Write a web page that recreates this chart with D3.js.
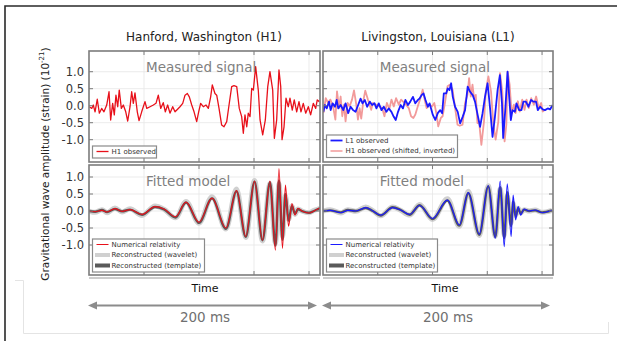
<!DOCTYPE html>
<html>
<head>
<meta charset="utf-8">
<script src="https://cdn.jsdelivr.net/npm/d3@7"></script>
<style>
  body { margin: 0; background: #fff; }
  text { font-family: "DejaVu Sans", sans-serif; }
</style>
</head>
<body>
<svg id="chart" width="617" height="341"></svg>
<script>
// ---- data (time in s, strain in 1e-21) ----
const timeRange = [0.25, 0.46];
const xTicks = [0.30, 0.35, 0.40, 0.45];
const yTicks = [-1.0, -0.5, 0.0, 0.5, 1.0];
const topDomain = [-1.656, 1.609];
const bottomDomain = [-1.882, 1.353];
const h1ShiftMs = 6.9; // H1 shifted and inverted onto L1

const h1Observed = [
  [0.2503,-0.03],[0.2525,-0.08],[0.2539,0.02],[0.2555,-0.18],[0.2575,0.19],[0.2594,-0.22],
  [0.2615,-0.08],[0.2636,-0.18],[0.2661,0.02],[0.2682,0.41],[0.2697,-0.42],[0.2715,0.07],
  [0.2730,-0.27],[0.2745,0.31],[0.2761,-0.03],[0.2775,0.46],[0.2794,-0.08],[0.2812,0.02],
  [0.2834,-0.18],[0.2852,-0.45],[0.2873,-0.03],[0.2888,0.41],[0.2903,0.07],[0.2918,0.38],
  [0.2939,-0.18],[0.2955,-0.44],[0.2979,-0.18],[0.3009,0.12],[0.3025,-0.08],[0.3055,-0.03],
  [0.3085,0.02],[0.3109,0.07],[0.3130,0.31],[0.3152,-0.08],[0.3175,0.09],[0.3194,-0.18],
  [0.3215,0.02],[0.3236,-0.22],[0.3261,-0.03],[0.3282,-0.18],[0.3303,-0.11],[0.3327,-0.03],
  [0.3352,0.07],[0.3373,0.31],[0.3394,0.36],[0.3412,0.26],[0.3434,0.02],[0.3455,-0.18],
  [0.3479,-0.47],[0.3497,-0.18],[0.3515,0.07],[0.3539,-0.03],[0.3564,0.02],[0.3585,-0.08],
  [0.3606,0.26],[0.3621,0.61],[0.3645,0.36],[0.3661,0.31],[0.3682,-0.08],[0.3706,-0.57],
  [0.3727,-0.62],[0.3752,-0.47],[0.3773,0.02],[0.3797,0.56],[0.3818,0.59],[0.3843,0.56],
  [0.3866,-0.08],[0.3888,-0.32],[0.3903,-0.81],[0.3918,-0.27],[0.3934,-0.62],[0.3948,-0.22],
  [0.3964,-0.32],[0.3979,0.51],[0.3994,0.46],[0.4015,1.15],[0.4039,0.46],[0.4055,-0.42],
  [0.4079,-0.86],[0.4103,-0.42],[0.4125,0.56],[0.4145,1.00],[0.4170,0.46],[0.4185,-0.96],
  [0.4206,-0.42],[0.4227,1.05],[0.4243,0.56],[0.4255,-1.00],[0.4273,-0.62],[0.4291,0.22],
  [0.4312,-0.03],[0.4327,0.22],[0.4348,-0.13],[0.4366,0.17],[0.4388,-0.18],[0.4409,0.12],
  [0.4427,-0.18],[0.4448,0.07],[0.4470,-0.22],[0.4494,-0.03],[0.4515,-0.27],[0.4539,0.07],
  [0.4561,-0.08],[0.4575,0.17],[0.4594,0.12]
];

const l1Observed = [
  [0.2503,-0.18],[0.2518,0.02],[0.2534,-0.08],[0.2555,0.12],[0.2570,-0.13],[0.2588,0.07],
  [0.2609,-0.03],[0.2625,0.17],[0.2639,-0.08],[0.2661,0.02],[0.2685,-0.13],[0.2706,0.07],
  [0.2730,-0.22],[0.2752,-0.03],[0.2775,-0.13],[0.2797,-0.18],[0.2821,0.02],[0.2843,0.21],
  [0.2861,0.07],[0.2882,0.17],[0.2903,-0.03],[0.2927,0.12],[0.2948,0.02],[0.2970,0.07],
  [0.2988,-0.08],[0.3009,0.07],[0.3034,-0.13],[0.3055,-0.03],[0.3079,-0.18],[0.3100,-0.08],
  [0.3125,-0.18],[0.3145,-0.32],[0.3164,-0.42],[0.3185,-0.18],[0.3209,0.02],[0.3230,-0.08],
  [0.3252,0.17],[0.3276,0.02],[0.3297,0.12],[0.3321,0.26],[0.3343,0.07],[0.3367,0.17],
  [0.3382,0.21],[0.3400,0.31],[0.3418,0.36],[0.3436,0.17],[0.3457,-0.03],[0.3473,0.07],
  [0.3503,-0.27],[0.3525,-0.42],[0.3548,-0.22],[0.3570,-0.13],[0.3588,-0.22],[0.3603,0.36],
  [0.3625,0.36],[0.3639,0.51],[0.3655,0.46],[0.3670,0.66],[0.3685,0.26],[0.3706,-0.03],
  [0.3730,-0.18],[0.3752,-0.52],[0.3776,-0.32],[0.3797,-0.13],[0.3821,0.56],[0.3843,0.41],
  [0.3867,0.31],[0.3888,0.12],[0.3912,-0.27],[0.3934,-0.62],[0.3957,-0.22],[0.3979,0.26],
  [0.4003,0.66],[0.4027,-0.13],[0.4048,-0.92],[0.4070,-0.32],[0.4094,0.46],[0.4115,0.90],
  [0.4134,0.07],[0.4145,-0.95],[0.4164,-0.13],[0.4185,1.00],[0.4200,0.26],[0.4215,-0.42],
  [0.4230,-0.13],[0.4252,-0.18],[0.4266,0.07],[0.4291,-0.13],[0.4312,-0.13],[0.4330,0.12],
  [0.4352,0.12],[0.4376,-0.03],[0.4400,0.17],[0.4421,0.12],[0.4445,0.12],[0.4461,-0.13],
  [0.4482,-0.03],[0.4506,-0.11],[0.4527,-0.13],[0.4552,-0.08],[0.4573,-0.11],[0.4597,0.02]
];

const h1Nr = [
  [0.2500,0.00],[0.2555,-0.02],[0.2618,0.02],[0.2664,-0.03],[0.2736,0.07],[0.2800,-0.01],
  [0.2873,0.04],[0.2982,-0.10],[0.3100,0.13],[0.3182,0.06],[0.3286,-0.17],[0.3382,0.26],
  [0.3500,-0.33],[0.3618,0.38],[0.3745,-0.50],[0.3841,0.60],[0.3925,-0.75],[0.4005,0.88],
  [0.4077,-0.86],[0.4145,0.88],[0.4195,-1.15],[0.4227,1.25],[0.4259,-1.10],[0.4286,0.76],
  [0.4314,-0.45],[0.4345,0.22],[0.4373,-0.12],[0.4400,0.08],[0.4436,0.00],[0.4500,-0.06],
  [0.4545,0.00],[0.4600,0.10]
];
const h1Template = [
  [0.2500,0.00],[0.2555,-0.02],[0.2618,0.03],[0.2664,-0.03],[0.2736,0.06],[0.2800,-0.01],
  [0.2873,0.04],[0.2982,-0.11],[0.3100,0.12],[0.3182,0.05],[0.3286,-0.19],[0.3382,0.25],
  [0.3500,-0.35],[0.3618,0.37],[0.3745,-0.52],[0.3841,0.58],[0.3925,-0.76],[0.4005,0.86],
  [0.4077,-0.86],[0.4145,0.85],[0.4195,-1.02],[0.4227,0.90],[0.4259,-0.85],[0.4286,0.50],
  [0.4314,-0.28],[0.4345,0.14],[0.4373,-0.08],[0.4400,0.05],[0.4436,0.00],[0.4500,-0.05],
  [0.4545,0.00],[0.4600,0.08]
];
const h1Wavelet = [
  [0.2500,0.00],[0.2555,-0.04],[0.2618,0.04],[0.2664,-0.05],[0.2736,0.09],[0.2800,-0.03],
  [0.2873,0.07],[0.2982,-0.13],[0.3100,0.15],[0.3182,0.05],[0.3286,-0.20],[0.3382,0.28],
  [0.3500,-0.36],[0.3618,0.42],[0.3745,-0.53],[0.3841,0.65],[0.3925,-0.78],[0.4005,0.90],
  [0.4077,-0.88],[0.4145,0.80],[0.4195,-0.95],[0.4227,0.80],[0.4259,-0.75],[0.4286,0.45],
  [0.4314,-0.25],[0.4345,0.15],[0.4373,-0.10],[0.4400,0.06],[0.4436,0.00],[0.4500,-0.05],
  [0.4545,0.02],[0.4600,0.08]
];

const l1Nr = [
  [0.2500,0.00],[0.2564,0.02],[0.2664,-0.05],[0.2727,0.02],[0.2800,0.00],[0.2891,0.10],
  [0.2955,0.00],[0.3027,-0.12],[0.3136,0.10],[0.3209,0.03],[0.3291,-0.10],[0.3382,0.16],
  [0.3500,-0.22],[0.3636,0.32],[0.3745,-0.41],[0.3827,0.54],[0.3927,-0.68],[0.4009,0.75],
  [0.4073,-0.80],[0.4118,0.88],[0.4155,-1.05],[0.4182,0.80],[0.4218,-0.75],[0.4236,0.47],
  [0.4259,-0.26],[0.4282,0.13],[0.4305,-0.12],[0.4336,0.06],[0.4382,0.00],[0.4436,0.03],
  [0.4500,-0.05],[0.4591,0.02]
];
const l1Template = [
  [0.2500,0.00],[0.2564,0.02],[0.2664,-0.04],[0.2727,0.03],[0.2800,0.00],[0.2891,0.09],
  [0.2955,0.00],[0.3027,-0.13],[0.3136,0.11],[0.3209,0.03],[0.3291,-0.11],[0.3382,0.17],
  [0.3500,-0.24],[0.3636,0.31],[0.3745,-0.43],[0.3827,0.52],[0.3927,-0.70],[0.4009,0.72],
  [0.4073,-0.76],[0.4118,0.70],[0.4155,-0.80],[0.4182,0.55],[0.4218,-0.45],[0.4236,0.28],
  [0.4259,-0.16],[0.4282,0.08],[0.4305,-0.07],[0.4336,0.04],[0.4382,0.00],[0.4436,0.02],
  [0.4500,-0.04],[0.4591,0.02]
];
const l1Wavelet = [
  [0.2500,0.00],[0.2564,0.04],[0.2664,-0.06],[0.2727,0.04],[0.2800,-0.01],[0.2891,0.12],
  [0.2955,0.01],[0.3027,-0.14],[0.3136,0.12],[0.3209,0.02],[0.3291,-0.12],[0.3382,0.19],
  [0.3500,-0.25],[0.3636,0.36],[0.3745,-0.45],[0.3827,0.58],[0.3927,-0.72],[0.4009,0.74],
  [0.4073,-0.74],[0.4118,0.65],[0.4155,-0.70],[0.4182,0.45],[0.4218,-0.35],[0.4236,0.22],
  [0.4259,-0.14],[0.4282,0.08],[0.4305,-0.06],[0.4336,0.04],[0.4382,0.00],[0.4436,0.03],
  [0.4500,-0.04],[0.4591,0.02]
];

// ---- layout ----
const svg = d3.select("#chart");
const cols = [{ x0: 89, x1: 320 }, { x0: 323, x1: 553 }];
const rows = [{ y0: 51, y1: 162, domain: topDomain }, { y0: 165, y1: 275, domain: bottomDomain }];
const fmt = d3.formatLocale({ decimal: ".", thousands: ",", grouping: [3], currency: ["", ""], minus: "-" }).format(".1f");

const RED = "#e8101a", BLUE = "#1a1aff", LIGHT_RED = "#f29a9a";
const WAVELET_GRAY = "#d0d0d0", TEMPLATE_GRAY = "#5a5a5a";

// page furniture (screenshot frame)
svg.append("rect").attr("width", 617).attr("height", 341).attr("fill", "#fff");
svg.append("path").attr("d", "M15,280.5H23.5V333.5H608.5V322")
  .attr("fill", "none").attr("stroke", "#e4e4e4").attr("stroke-width", 1);
svg.append("path").attr("d", "M5,341V6H617")
  .attr("fill", "none").attr("stroke", "#2a2a2a").attr("stroke-width", 1.6);

const panels = [];
rows.forEach((r, ri) => cols.forEach((c, ci) => {
  const x = d3.scaleLinear().domain(timeRange).range([c.x0, c.x1]);
  const y = d3.scaleLinear().domain(r.domain).range([r.y1, r.y0]);
  const id = `clip-${ri}-${ci}`;
  svg.append("clipPath").attr("id", id).append("rect")
    .attr("x", c.x0).attr("y", r.y0).attr("width", c.x1 - c.x0).attr("height", r.y1 - r.y0);
  const g = svg.append("g");
  // grid
  g.selectAll("line.gx").data(xTicks).join("line")
    .attr("x1", d => x(d)).attr("x2", d => x(d)).attr("y1", r.y0).attr("y2", r.y1)
    .attr("stroke", "#e6e6e6").attr("stroke-width", 0.8);
  g.selectAll("line.gy").data(yTicks).join("line")
    .attr("x1", c.x0).attr("x2", c.x1).attr("y1", d => y(d)).attr("y2", d => y(d))
    .attr("stroke", "#e6e6e6").attr("stroke-width", 0.8);
  const plot = svg.append("g").attr("clip-path", `url(#${id})`);
  panels.push({ x, y, g, plot, r, c, ri, ci });
}));

const line = (p, curve) => d3.line().x(d => p.x(d[0])).y(d => p.y(d[1])).curve(curve);

// Measured signal
const [h1m, l1m, h1f, l1f] = panels;
h1m.plot.append("path").datum(h1Observed).attr("d", line(h1m, d3.curveLinear))
  .attr("fill", "none").attr("stroke", RED).attr("stroke-width", 1.3).attr("stroke-linejoin", "round");
const h1Shifted = h1Observed.map(([t, v]) => [t - h1ShiftMs / 1000, -v]);
l1m.plot.append("path").datum(h1Shifted).attr("d", line(l1m, d3.curveLinear))
  .attr("fill", "none").attr("stroke", LIGHT_RED).attr("stroke-width", 1.8).attr("stroke-linejoin", "round");
l1m.plot.append("path").datum(l1Observed).attr("d", line(l1m, d3.curveLinear))
  .attr("fill", "none").attr("stroke", BLUE).attr("stroke-width", 1.8).attr("stroke-linejoin", "round");

// Fitted model
[[h1f, h1Wavelet, h1Template, h1Nr, RED], [l1f, l1Wavelet, l1Template, l1Nr, BLUE]].forEach(([p, wav, tmp, nr, col]) => {
  p.plot.append("path").datum(wav).attr("d", line(p, d3.curveMonotoneX))
    .attr("fill", "none").attr("stroke", WAVELET_GRAY).attr("stroke-width", 5).attr("stroke-linejoin", "round");
  p.plot.append("path").datum(tmp).attr("d", line(p, d3.curveMonotoneX))
    .attr("fill", "none").attr("stroke", TEMPLATE_GRAY).attr("stroke-width", 2.4).attr("stroke-linejoin", "round");
  p.plot.append("path").datum(nr).attr("d", line(p, d3.curveMonotoneX))
    .attr("fill", "none").attr("stroke", col).attr("stroke-width", 1.1);
});

// frames, ticks, labels
panels.forEach(p => {
  const { x, y, r, c } = p;
  const f = svg.append("g").attr("stroke", "#7c7c7c");
  f.append("rect").attr("x", c.x0).attr("y", r.y0).attr("width", c.x1 - c.x0).attr("height", r.y1 - r.y0)
    .attr("fill", "none").attr("stroke-width", 1.6);
  xTicks.forEach(t => {
    f.append("line").attr("x1", x(t)).attr("x2", x(t)).attr("y1", r.y0).attr("y2", r.y0 + 4);
    f.append("line").attr("x1", x(t)).attr("x2", x(t)).attr("y1", r.y1).attr("y2", r.y1 - 4);
  });
  yTicks.forEach(v => {
    f.append("line").attr("x1", c.x0).attr("x2", c.x0 + 4).attr("y1", y(v)).attr("y2", y(v));
    f.append("line").attr("x1", c.x1).attr("x2", c.x1 - 4).attr("y1", y(v)).attr("y2", y(v));
  });
  if (p.ci === 0) {
    svg.append("g").selectAll("text").data(yTicks).join("text")
      .attr("x", c.x0 - 5).attr("y", d => y(d)).attr("dy", "0.36em")
      .attr("text-anchor", "end").attr("font-size", 11.5).attr("fill", "#333")
      .text(d => fmt(d));
  }
  // panel captions
  svg.append("text").attr("x", x(0.30) + 2).attr("y", p.ri === 0 ? 72 : 186)
    .attr("font-family", "Roboto, sans-serif").attr("font-size", 13.5).attr("fill", "#808080")
    .text(p.ri === 0 ? "Measured signal" : "Fitted model");
});

// under-panel lines
cols.forEach(c => svg.append("line").attr("x1", c.x0).attr("x2", c.x1).attr("y1", 278).attr("y2", 278)
  .attr("stroke", "#9a9a9a").attr("stroke-width", 1));

// legends
function legend(x0, y0, w, items) {
  const g = svg.append("g");
  g.append("rect").attr("x", x0).attr("y", y0).attr("width", w).attr("height", items.length * 10.5 + 1.5)
    .attr("fill", "#fff").attr("stroke", "#8a8a8a").attr("stroke-width", 1.2);
  items.forEach((it, i) => {
    const cy = y0 + 5.5 + i * 10.5;
    if (it.bar) {
      g.append("rect").attr("x", x0 + 2.5).attr("y", cy - 2).attr("width", 15).attr("height", 4).attr("fill", it.color);
    } else {
      g.append("line").attr("x1", x0 + 4).attr("x2", x0 + 16).attr("y1", cy).attr("y2", cy)
        .attr("stroke", it.color).attr("stroke-width", it.w);
    }
    g.append("text").attr("x", x0 + 19).attr("y", cy).attr("dy", "0.35em")
      .attr("font-size", 7).attr("fill", "#333").text(it.label);
  });
}
legend(92.5, 146, 64, [{ label: "H1 observed", color: RED, w: 1.3 }]);
legend(326.5, 135, 131, [{ label: "L1 observed", color: BLUE, w: 1.8 }, { label: "H1 observed (shifted, inverted)", color: LIGHT_RED, w: 1.5 }]);
const fittedItems = col => [
  { label: "Numerical relativity", color: col, w: 1 },
  { label: "Reconstructed (wavelet)", color: WAVELET_GRAY, bar: true },
  { label: "Reconstructed (template)", color: TEMPLATE_GRAY, bar: true }
];
legend(92.5, 239, 112, fittedItems(RED));
legend(326.5, 239, 111, fittedItems(BLUE));

// titles
svg.append("text").attr("x", 204).attr("y", 41).attr("text-anchor", "middle").attr("font-size", 12)
  .attr("fill", "#222").text("Hanford, Washington (H1)");
svg.append("text").attr("x", 438).attr("y", 41).attr("text-anchor", "middle").attr("font-size", 12)
  .attr("fill", "#222").text("Livingston, Louisiana (L1)");

// y label
const yl = svg.append("text").attr("transform", "translate(45,164) rotate(-90)").attr("dy", "0.35em")
  .attr("text-anchor", "middle").attr("font-size", 10.5).attr("fill", "#222");
yl.append("tspan").text("Gravitational wave amplitude (strain) (10");
yl.append("tspan").attr("font-size", 7).attr("dy", "-0.6em").text("-21");
yl.append("tspan").attr("dy", "0.42em").text(")");

// time axis labels and 200 ms arrows
[[205, cols[0]], [445, cols[1]]].forEach(([tx, c]) => {
  svg.append("text").attr("x", tx).attr("y", 292).attr("text-anchor", "middle")
    .attr("font-family", "Liberation Sans, Arial, sans-serif").attr("font-size", 11).attr("fill", "#111").text("Time");
});
cols.forEach((c, i) => {
  const a0 = c.x0 - 1, a1 = c.x1 - 3, ay = 305.5;
  const g = svg.append("g").attr("fill", "#8c8c8c");
  g.append("line").attr("x1", a0 + 6).attr("x2", a1 - 6).attr("y1", ay).attr("y2", ay)
    .attr("stroke", "#8c8c8c").attr("stroke-width", 2);
  g.append("path").attr("d", `M${a0},${ay}L${a0 + 9},${ay - 4}L${a0 + 9},${ay + 4}Z`);
  g.append("path").attr("d", `M${a1},${ay}L${a1 - 9},${ay - 4}L${a1 - 9},${ay + 4}Z`);
  svg.append("text").attr("x", i === 0 ? 205 : 448).attr("y", 322).attr("text-anchor", "middle")
    .attr("font-family", "Roboto, sans-serif").attr("font-size", 13.5).attr("fill", "#707070").text("200 ms");
});
</script>
</body>
</html>
